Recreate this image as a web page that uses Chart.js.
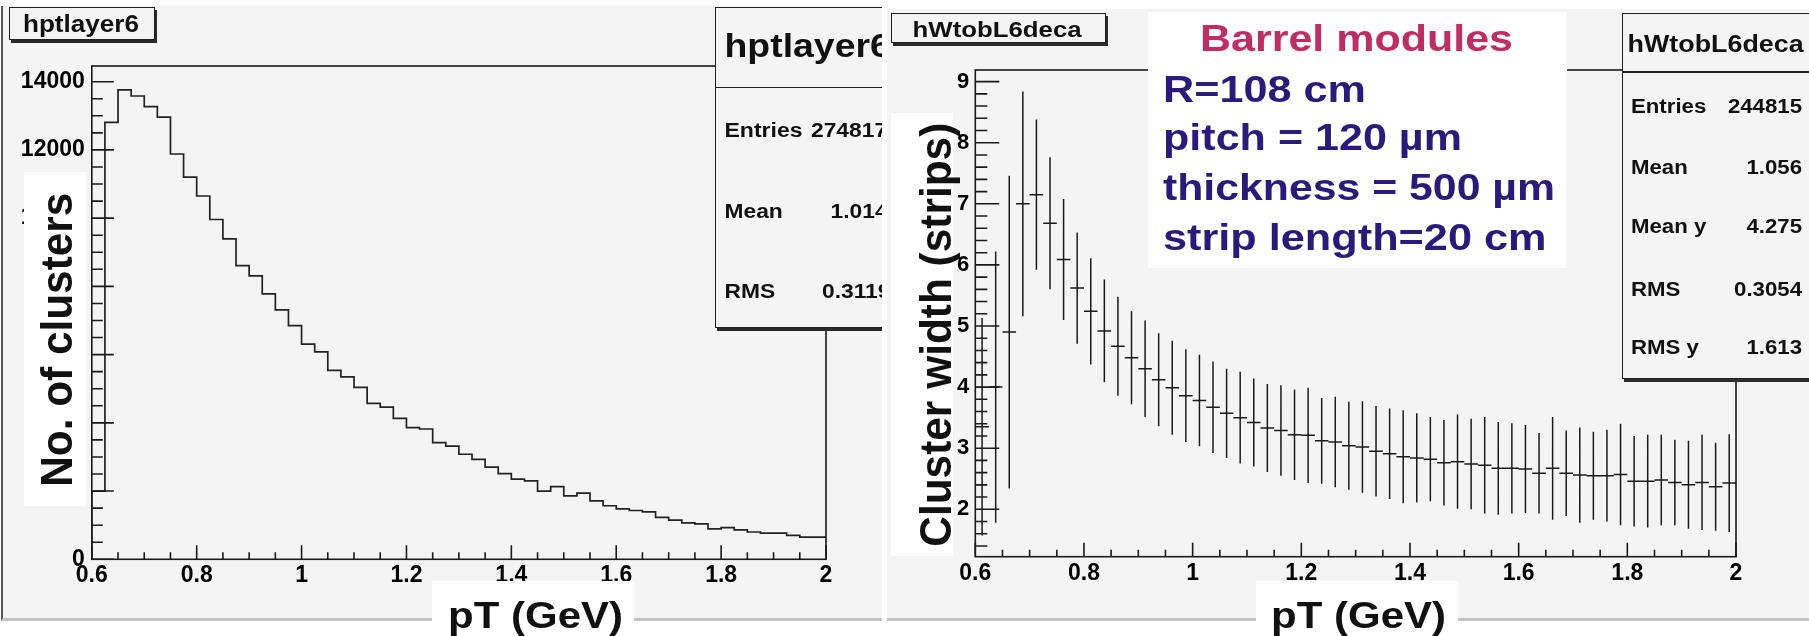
<!DOCTYPE html>
<html><head><meta charset="utf-8">
<script src="https://cdn.jsdelivr.net/npm/chart.js@4.4.1/dist/chart.umd.min.js"></script>
<style>
html,body{margin:0;padding:0;background:#fff;}
#page{position:relative;width:1809px;height:636px;overflow:hidden;background:#fff;}
.panel{position:absolute;background:#f4f4f4;box-sizing:border-box;}
.box{position:absolute;box-sizing:border-box;}
.rootbox{background:#f4f4f4;border:1.5px solid #222;box-shadow:2px 3px 0 #2a2a2a;}
.white{background:#fff;}
canvas{position:absolute;top:0;}
</style></head>
<body><div id="page">
<div class="panel" style="left:1px;top:6px;width:881px;height:615px;border-left:2px solid #555;border-bottom:3px solid #c4c4c4;"></div>
<div class="panel" style="left:887px;top:9px;width:922px;height:612px;border-bottom:3px solid #c4c4c4;"></div>
<canvas id="c1" width="884" height="636" style="left:0"></canvas>
<canvas id="c2" width="925" height="636" style="left:884px"></canvas>
<div id="clipL" style="position:absolute;left:0;top:0;width:882px;height:636px;overflow:hidden;">
  <div class="box rootbox" style="left:9px;top:7px;width:146px;height:33px;"></div>
  <div class="box rootbox" style="left:715px;top:7px;width:180px;height:321px;"></div>
  <div class="box" style="left:715px;top:86.5px;width:180px;height:1.5px;background:#222;"></div>
  <div class="box white" style="left:24px;top:172px;width:63px;height:334px;"></div>
  <div class="box white" style="left:432px;top:581px;width:202px;height:60px;"></div>
</div>
<div id="clipR" style="position:absolute;left:0;top:0;width:1809px;height:636px;overflow:hidden;">
  <div class="box rootbox" style="left:891px;top:12.5px;width:215px;height:30px;"></div>
  <div class="box white" style="left:1148px;top:11.5px;width:419px;height:256px;"></div>
  <div class="box rootbox" style="left:1621.5px;top:12.5px;width:200px;height:366px;"></div>
  <div class="box" style="left:1621.5px;top:71px;width:200px;height:1.5px;background:#222;"></div>
  <div class="box white" style="left:891px;top:113px;width:62px;height:443px;"></div>
  <div class="box white" style="left:1256px;top:581px;width:202px;height:60px;"></div>
</div>
</div>
<script>
// ---------------- data ----------------
const binEdges = [0.6,0.625,0.65,0.675,0.7,0.725,0.75,0.775,0.8,0.825,0.85,0.875,0.9,0.925,0.95,0.975,1.0,1.025,1.05,1.075,1.1,1.125,1.15,1.175,1.2,1.225,1.25,1.275,1.3,1.325,1.35,1.375,1.4,1.425,1.45,1.475,1.5,1.525,1.55,1.575,1.6,1.625,1.65,1.675,1.7,1.725,1.75,1.775,1.8,1.825,1.85,1.875,1.9,1.925,1.95,1.975,2.0];
const clusterCounts = [0,2000,12810,13760,13580,13270,12960,11880,11200,10650,9960,9390,8610,8310,7780,7310,6850,6310,6080,5540,5350,5040,4570,4460,4130,3860,3820,3420,3320,3080,2930,2700,2510,2350,2300,2000,2130,1860,1940,1710,1570,1480,1430,1390,1230,1150,1070,1040,890,930,860,800,770,770,700,650];
const widthMean = [3.35,4.00,4.90,7.00,7.15,6.68,6.09,5.62,5.24,4.92,4.67,4.48,4.30,4.12,3.99,3.86,3.78,3.67,3.57,3.50,3.42,3.33,3.29,3.22,3.21,3.12,3.10,3.04,3.02,2.95,2.91,2.86,2.84,2.82,2.76,2.78,2.74,2.72,2.67,2.67,2.66,2.59,2.67,2.59,2.56,2.55,2.55,2.57,2.46,2.46,2.48,2.44,2.40,2.44,2.37,2.43];
const widthErr = [1.78,2.22,2.56,1.84,1.23,1.08,0.99,0.91,0.87,0.84,0.81,0.76,0.79,0.76,0.77,0.76,0.75,0.75,0.73,0.75,0.72,0.72,0.74,0.74,0.78,0.70,0.74,0.72,0.75,0.74,0.74,0.76,0.73,0.69,0.70,0.77,0.74,0.79,0.76,0.74,0.72,0.66,0.84,0.70,0.78,0.72,0.75,0.83,0.74,0.76,0.74,0.70,0.72,0.78,0.72,0.80];
const xTickValues = [0.6,0.8,1.0,1.2,1.4,1.6,1.8,2.0];
const xTickLabels = ['0.6','0.8','1','1.2','1.4','1.6','1.8','2'];
const yTickValuesL = [0,2000,4000,6000,8000,10000,12000,14000];
const yTickLabelsL = ['0','2000','4000','6000','8000','10000','12000','14000'];
const yTickValuesR = [2,3,4,5,6,7,8,9];
const yTickLabelsR = ['2','3','4','5','6','7','8','9'];

// ---------------- helpers ----------------
const FAM = '"Liberation Sans", Arial, sans-serif';
const mctx = document.createElement('canvas').getContext('2d');
function txt(parent, s, o) {
  const font = `${o.weight||'bold'} ${o.size}px ${o.family||FAM}`;
  mctx.font = font;
  const m = mctx.measureText(s);
  const nat = m.width;
  const sx = o.w ? o.w / nat : (o.sx || 1);
  const A = m.fontBoundingBoxAscent, D = m.fontBoundingBoxDescent;
  const lh = Math.round(o.size * 1.3);
  const base = (lh - (A + D)) / 2 + A;
  const el = document.createElement('div');
  el.textContent = s;
  el.style.cssText = `position:absolute;white-space:nowrap;font:${font};line-height:${lh}px;color:${o.color||'#111'};transform-origin:0 0;left:0;top:0;`;
  const W = nat * sx;
  if (o.rot) {
    el.style.transform = `translate(${o.x - base}px, ${o.y}px) rotate(-90deg) scaleX(${sx})`;
  } else {
    let left = o.x;
    if (o.align === 'center') left = o.x - W / 2;
    else if (o.align === 'right') left = o.x - W;
    el.style.transform = `translate(${left}px, ${o.y - base}px) scaleX(${sx})`;
  }
  parent.appendChild(el);
}

const rootAxes = {
  id: 'rootAxes',
  afterDatasetsDraw(chart, args, o) {
    const {ctx, chartArea: a, scales: {x, y}} = chart;
    ctx.save();
    ctx.strokeStyle = '#1a1a1a';
    ctx.lineWidth = 1.6;
    ctx.strokeRect(a.left, a.top, a.right - a.left, a.bottom - a.top);
    ctx.beginPath();
    const nx = Math.round((o.xEnd - o.xStart) / o.xStep);
    for (let i = 0; i <= nx; i++) {
      const px = x.getPixelForValue(o.xStart + i * o.xStep);
      const L = (i % o.xEvery === 0) ? o.xMajorLen : o.xMinorLen;
      ctx.moveTo(px, a.bottom); ctx.lineTo(px, a.bottom - L);
    }
    const ny = Math.round((o.yEnd - o.yStart) / o.yStep);
    for (let i = 0; i <= ny; i++) {
      const py = y.getPixelForValue(o.yStart + i * o.yStep);
      const L = ((i - o.yMajorOffset) % o.yEvery === 0) ? o.yMajorLen : o.yMinorLen;
      ctx.moveTo(a.left, py); ctx.lineTo(a.left + L, py);
    }
    ctx.stroke();
    ctx.restore();
  }
};

function axisCommon(min, max, fitKey, fitVal, tickVals, tickLabels, size, pad) {
  return {
    type: 'linear', min, max,
    afterFit(s) { s[fitKey] = fitVal; },
    afterBuildTicks(s) { s.ticks = tickVals.map(v => ({value: v})); },
    grid: {display: false, drawTicks: false},
    border: {display: false},
    ticks: {
      padding: pad, color: '#000', autoSkip: false, maxRotation: 0,
      font: {family: 'Liberation Sans', weight: 'bold', size},
      callback: (v, i) => tickLabels[i]
    }
  };
}

// ---------------- left chart: histogram ----------------
const histPts = clusterCounts.map((c, i) => ({x: binEdges[i], y: c}));
histPts.push({x: binEdges[binEdges.length - 1], y: clusterCounts[clusterCounts.length - 1]});

new Chart(document.getElementById('c1'), {
  type: 'scatter',
  data: {datasets: [{data: histPts, showLine: true, stepped: 'after', borderColor: '#222', borderWidth: 1.7, pointRadius: 0, fill: false}]},
  options: {
    responsive: false, animation: false, devicePixelRatio: 1,
    layout: {padding: {left: 0, top: 66, right: 58, bottom: 0}},
    plugins: {legend: {display: false}, tooltip: {enabled: false},
      rootAxes: {xStart: 0.6, xEnd: 2.0, xStep: 0.05, xEvery: 4, xMajorLen: 14, xMinorLen: 7,
                 yStart: 0, yEnd: 14000, yStep: 500, yEvery: 4, yMajorOffset: 0, yMajorLen: 22, yMinorLen: 11}},
    scales: {
      x: axisCommon(0.6, 2.0, 'height', 76.7, xTickValues, xTickLabels, 23, 3),
      y: axisCommon(0, 14460, 'width', 91.8, yTickValuesL, yTickLabelsL, 23, 7)
    }
  },
  plugins: [rootAxes]
});

// ---------------- right chart: profile ----------------
const vBars = [], hBars = [];
widthMean.forEach((m, i) => {
  const c = (binEdges[i] + binEdges[i + 1]) / 2;
  const e = widthErr[i];
  vBars.push({x: c, y: m - e}, {x: c, y: m + e}, {x: c, y: null});
  hBars.push({x: binEdges[i], y: m}, {x: binEdges[i + 1], y: m}, {x: binEdges[i + 1], y: null});
});

new Chart(document.getElementById('c2'), {
  type: 'scatter',
  data: {datasets: [
    {data: vBars, showLine: true, spanGaps: false, borderColor: '#1a1a1a', borderWidth: 1.5, pointRadius: 0},
    {data: hBars, showLine: true, spanGaps: false, borderColor: '#1a1a1a', borderWidth: 1.5, pointRadius: 0}
  ]},
  options: {
    responsive: false, animation: false, devicePixelRatio: 1,
    layout: {padding: {left: 0, top: 70, right: 73, bottom: 0}},
    plugins: {legend: {display: false}, tooltip: {enabled: false},
      rootAxes: {xStart: 0.6, xEnd: 2.0, xStep: 0.05, xEvery: 4, xMajorLen: 14, xMinorLen: 7,
                 yStart: 1.4, yEnd: 9.0, yStep: 0.2, yEvery: 5, yMajorOffset: 3, yMajorLen: 24, yMinorLen: 12}},
    scales: {
      x: axisCommon(0.6, 2.0, 'height', 79.3, xTickValues, xTickLabels, 23, 3),
      y: axisCommon(1.224, 9.19, 'width', 91.3, yTickValuesR, yTickLabelsR, 22, 6)
    }
  },
  plugins: [rootAxes]
});

// ---------------- texts ----------------
const L = document.getElementById('clipL');
const R = document.getElementById('clipR');
txt(L, 'hptlayer6', {x: 23, y: 31.7, size: 23, w: 116});
txt(L, 'hptlayer6', {x: 724.5, y: 56.7, size: 34, sx: 1.1});
txt(L, 'Entries', {x: 724.5, y: 136.7, size: 20, w: 78});
txt(L, '274817', {x: 811, y: 136.7, size: 20, sx: 1.14});
txt(L, 'Mean', {x: 724.5, y: 218.3, size: 20, sx: 1.14});
txt(L, '1.014', {x: 830.6, y: 218.3, size: 20, sx: 1.14});
txt(L, 'RMS', {x: 724.5, y: 298.3, size: 20, sx: 1.14});
txt(L, '0.3119', {x: 822, y: 298.3, size: 20, sx: 1.14});
txt(L, 'No. of clusters', {x: 71.7, y: 486.7, size: 45, w: 294, rot: true});
txt(L, 'pT (GeV)', {x: 448, y: 628.3, size: 37, w: 175});

txt(R, 'hWtobL6deca', {x: 912.6, y: 37.3, size: 22, w: 169});
txt(R, 'hWtobL6deca', {x: 1627.6, y: 51.7, size: 23, w: 176});
const statRows = [['Entries', '244815', 113.3], ['Mean', '1.056', 174], ['Mean y', '4.275', 233.3], ['RMS', '0.3054', 296], ['RMS y', '1.613', 354]];
statRows.forEach(r => {
  txt(R, r[0], {x: 1631, y: r[2], size: 20, sx: 1.11});
  txt(R, r[1], {x: 1802, y: r[2], size: 20, sx: 1.11, align: 'right'});
});
txt(R, 'Cluster width (strips)', {x: 951, y: 546.7, size: 44, w: 424, rot: true});
txt(R, 'pT (GeV)', {x: 1271, y: 628.3, size: 37, w: 175});
txt(R, 'Barrel modules', {x: 1356.5, y: 51.7, size: 37, w: 313, align: 'center', color: '#c12c62'});
const ann = [['R=108 cm', 101.7, 203], ['pitch = 120 µm', 150, 299], ['thickness = 500 µm', 200, 392], ['strip length=20 cm', 250, 383.5]];
ann.forEach(a => txt(R, a[0], {x: 1163, y: a[1], size: 36, w: a[2], color: '#2b1a7c'}));
</script>
</body></html>
